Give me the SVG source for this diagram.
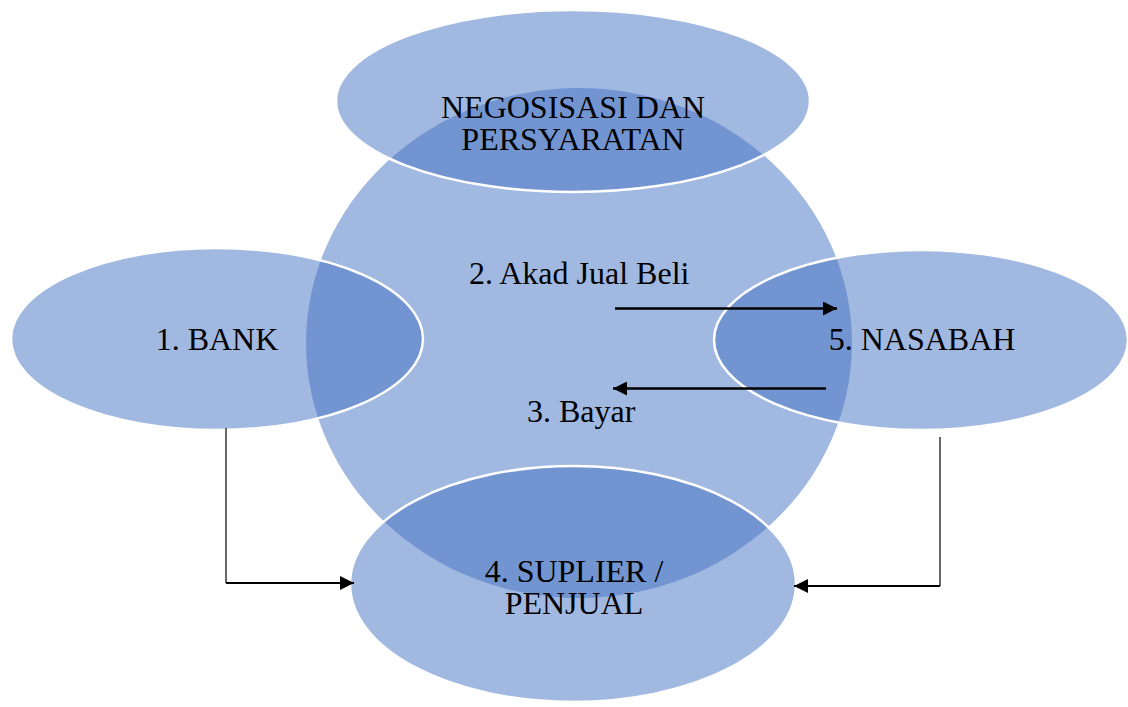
<svg xmlns="http://www.w3.org/2000/svg" width="1128" height="707" viewBox="0 0 1128 707">
<style>
.shape{fill:#4472C4;fill-opacity:0.5}
.ell{stroke:#FFFFFF;stroke-width:2.5}
.t{font-family:"Liberation Serif","Times New Roman",serif;font-size:32px;fill:#000}
.c{text-anchor:middle}
.ln{stroke:#000;fill:none}
</style>
<defs>
<marker id="ah" viewBox="0 0 10 10" refX="10" refY="5" markerWidth="17" markerHeight="14" markerUnits="userSpaceOnUse" orient="auto">
<path d="M0,0 L10,5 L0,10 Z" fill="#000"/>
</marker>
</defs>
<rect width="1128" height="707" fill="#FFFFFF"/>
<g id="center">
<ellipse class="shape" cx="579" cy="343" rx="273" ry="255"/>
</g>
<g id="negosiasi">
<ellipse class="shape ell" cx="573" cy="101" rx="237" ry="91"/>
<text class="t c" x="573" y="118">NEGOSISASI DAN</text>
<text class="t c" x="573" y="150">PERSYARATAN</text>
</g>
<g id="bank">
<ellipse class="shape ell" cx="217" cy="339" rx="206" ry="91"/>
<text class="t c" x="217" y="350">1. BANK</text>
</g>
<g id="nasabah">
<ellipse class="shape ell" cx="921" cy="340" rx="207" ry="90"/>
<text class="t c" x="922" y="350">5. NASABAH</text>
</g>
<g id="suplier">
<ellipse class="shape ell" cx="573" cy="584" rx="223" ry="118"/>
<text class="t c" x="574" y="582">4. SUPLIER /</text>
<text class="t c" x="574" y="614">PENJUAL</text>
</g>
<g id="labels">
<text class="t" x="469" y="284">2. Akad Jual Beli</text>
<text class="t" x="527" y="422">3. Bayar</text>
</g>
<g id="connectors">
<line class="ln" x1="615" y1="308.5" x2="837" y2="308.5" stroke-width="2.5" marker-end="url(#ah)"/>
<line class="ln" x1="826" y1="388.5" x2="613" y2="388.5" stroke-width="2.5" marker-end="url(#ah)"/>
<polyline class="ln" points="226,428 226,583" stroke-width="1.2"/>
<line class="ln" x1="226" y1="583" x2="354" y2="583" stroke-width="2.2" marker-end="url(#ah)"/>
<polyline class="ln" points="940,437 940,586" stroke-width="1.2"/>
<line class="ln" x1="940" y1="586" x2="794" y2="586" stroke-width="2.2" marker-end="url(#ah)"/>
</g>
</svg>
